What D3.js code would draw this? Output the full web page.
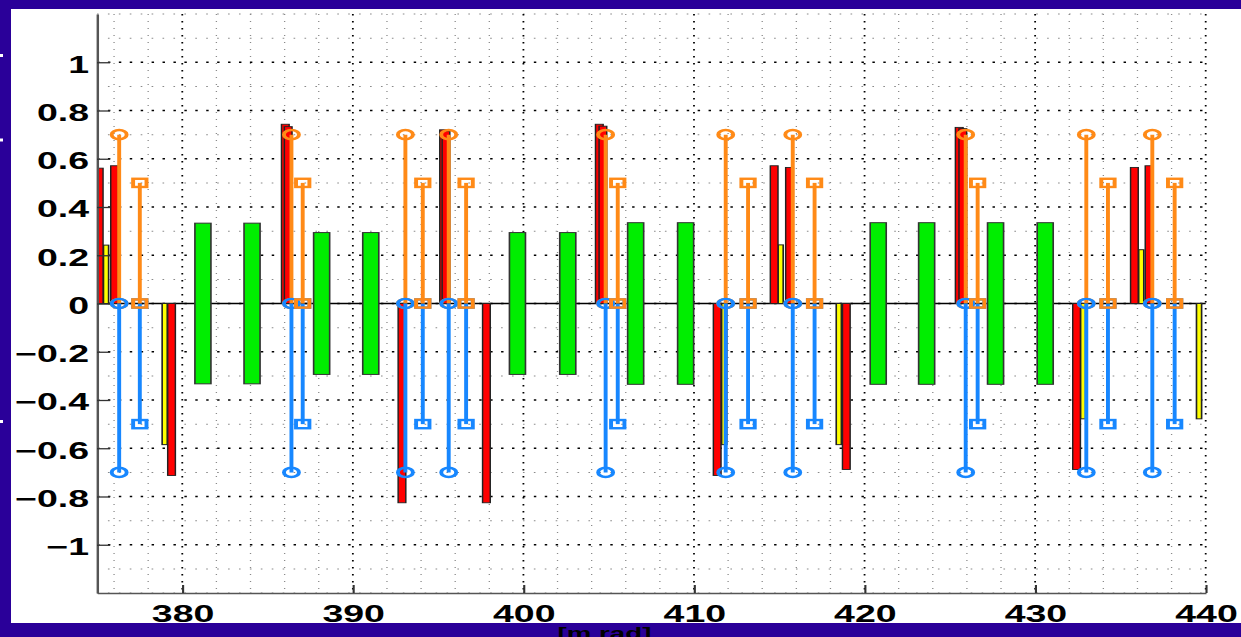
<!DOCTYPE html>
<html>
<head>
<meta charset="utf-8">
<script src="https://cdn.jsdelivr.net/npm/d3@7/dist/d3.min.js"></script>
<style>
  html, body { margin: 0; padding: 0; background: #2a0099; }
  svg { display: block; }
  text { font-family: "Liberation Sans", Arial, Helvetica, sans-serif; font-weight: bold; }
</style>
</head>
<body>
<svg id="chart" width="1241" height="637"></svg>
<script>
// ---- axis ticks ----
const xTicks = [380, 390, 400, 410, 420, 430, 440];
const xTickLabels = ["380", "390", "400", "410", "420", "430", "440"];
const xMinor = [376, 378, 382, 384, 386, 388, 392, 394, 396, 398, 402, 404, 406, 408,
                412, 414, 416, 418, 422, 424, 426, 428, 432, 434, 436, 438];
const yTicks = [-1, -0.8, -0.6, -0.4, -0.2, 0, 0.2, 0.4, 0.6, 0.8, 1];
const yTickLabels = ["\u22121", "\u22120.8", "\u22120.6", "\u22120.4", "\u22120.2", "0",
                     "0.2", "0.4", "0.6", "0.8", "1"];
const yMinor = [-1.2, -1.1, -0.9, -0.7, -0.5, -0.3, -0.1, 0.1, 0.3, 0.5, 0.7, 0.9, 1.1, 1.2];

// ---- red bars ----
const redX = [375.13, 376.03, 379.37, 386.04, 386.21, 392.88, 395.32, 395.46, 397.83,
              404.45, 404.66, 411.36, 414.70, 415.60, 418.93, 425.55, 425.76, 432.43, 435.82, 436.68];
const redV = [0.561, 0.571, -0.713, 0.743, 0.733, -0.826, 0.72, 0.715, -0.826,
              0.743, 0.735, -0.713, 0.571, 0.564, -0.688, 0.73, 0.725, -0.688, 0.564, 0.571];

// ---- yellow bars ----
const yellowX = [375.53, 378.97, 411.77, 415.08, 418.49, 432.81, 436.22, 439.61];
const yellowV = [0.242, -0.585, -0.585, 0.243, -0.585, -0.478, 0.223, -0.478];

// ---- green bars (symmetric about zero) ----
const greenX = [381.21, 384.09, 388.17, 391.05, 399.65, 402.6, 406.58, 409.51, 420.8, 423.64, 427.68, 430.59];
const greenV = [0.333, 0.333, 0.294, 0.294, 0.294, 0.294, 0.335, 0.335, 0.335, 0.335, 0.335, 0.335];

// ---- stems ----
const circleStemX = [376.30, 386.40, 393.08, 395.62, 404.82, 411.86, 415.79, 425.93, 433.0, 436.87];
const circleUp = 0.7, circleDown = -0.7;
const squareStemX = [377.51, 387.06, 394.10, 396.64, 405.53, 413.17, 417.07, 426.63, 434.27, 438.18];
const squareUp = 0.5, squareDown = -0.5;

// ---- layout ----
const SX = 1.63;                 // horizontal stretch of the whole figure
const plotL = 97, plotR = 1205.7, plotT = 14, plotB = 593;
const orange = "#ff8a17", blue = "#1787ff";

const svg = d3.select("#chart");
svg.append("rect").attr("x", 11).attr("y", 9).attr("width", 1230).attr("height", 614).attr("fill", "#fff");
// small white marks along the left border
svg.selectAll(".edge").data([55.5, 140, 421.5]).join("rect")
  .attr("x", 0).attr("y", d => d - 1.5).attr("width", 3).attr("height", 3).attr("fill", "#fff");

const g = svg.append("g").attr("transform", `scale(${SX},1)`);

const x = d3.scaleLinear().domain([375, 440]).range([plotL / SX, plotR / SX]);
const y = d3.scaleLinear().domain([-1.2, 1.2]).range([plotB, plotT]);

// minor grid
const grid = g.append("g");
grid.selectAll(".vminor").data(xMinor).join("line")
  .attr("x1", d => x(d)).attr("x2", d => x(d)).attr("y1", plotT).attr("y2", plotB)
  .attr("stroke", "#8a8a8a").attr("stroke-width", 0.8).attr("stroke-dasharray", "1,6");
grid.selectAll(".hminor").data(yMinor).join("line")
  .attr("x1", x(375)).attr("x2", x(440)).attr("y1", d => y(d)).attr("y2", d => y(d))
  .attr("stroke", "#8a8a8a").attr("stroke-width", 1).attr("stroke-dasharray", "1,5.7");
// major grid
grid.selectAll(".vmajor").data(xTicks).join("line")
  .attr("x1", d => x(d)).attr("x2", d => x(d)).attr("y1", plotT).attr("y2", plotB)
  .attr("stroke", "#000").attr("stroke-width", 1.1).attr("stroke-dasharray", "1.5,5.5");
grid.selectAll(".hmajor").data(yTicks).join("line")
  .attr("x1", x(375)).attr("x2", x(440)).attr("y1", d => y(d)).attr("y2", d => y(d))
  .attr("stroke", "#000").attr("stroke-width", 1.6).attr("stroke-dasharray", "1.5,5.2");

// baseline at zero
g.append("line").attr("x1", x(375)).attr("x2", x(440)).attr("y1", y(0)).attr("y2", y(0))
  .attr("stroke", "#000").attr("stroke-width", 1.6);

const clip = svg.append("clipPath").attr("id", "plotclip");
clip.append("rect").attr("x", x(375)).attr("y", plotT).attr("width", x(440) - x(375)).attr("height", plotB - plotT);
const plot = g.append("g").attr("clip-path", "url(#plotclip)");

const redW = 0.45, yellowW = 0.3, greenW = 0.94;

// yellow bars
plot.selectAll(".yb").data(yellowX).join("rect")
  .attr("x", d => x(d - yellowW / 2)).attr("width", x(yellowW) - x(0))
  .attr("y", (d, i) => y(Math.max(0, yellowV[i])))
  .attr("height", (d, i) => Math.abs(y(yellowV[i]) - y(0)))
  .attr("fill", "#ffff00").attr("stroke", "#222").attr("stroke-width", 1);

// red bars
plot.selectAll(".rb").data(redX).join("rect")
  .attr("x", d => x(d - redW / 2)).attr("width", x(redW) - x(0))
  .attr("y", (d, i) => y(Math.max(0, redV[i])))
  .attr("height", (d, i) => Math.abs(y(redV[i]) - y(0)))
  .attr("fill", "#ff0000").attr("stroke", "#222").attr("stroke-width", 0.9);

// green bars
plot.selectAll(".gb").data(greenX).join("rect")
  .attr("x", d => x(d - greenW / 2)).attr("width", x(greenW) - x(0))
  .attr("y", (d, i) => y(greenV[i]))
  .attr("height", (d, i) => y(-greenV[i]) - y(greenV[i]))
  .attr("fill", "#00ee00").attr("stroke", "#333").attr("stroke-width", 1);

// stems with markers at both ends
function stems(xs, v, color, shape) {
  const grp = g.append("g");
  grp.selectAll("line").data(xs).join("line")
    .attr("x1", d => x(d)).attr("x2", d => x(d)).attr("y1", y(0)).attr("y2", y(v))
    .attr("stroke", color).attr("stroke-width", 2.4);
  const ends = xs.flatMap(d => [[d, 0], [d, v]]);
  if (shape === "circle") {
    grp.selectAll("circle").data(ends).join("circle")
      .attr("cx", d => x(d[0])).attr("cy", d => y(d[1])).attr("r", 4.6)
      .attr("fill", "none").attr("stroke", color).attr("stroke-width", 2.4);
  } else {
    grp.selectAll("rect").data(ends).join("rect")
      .attr("x", d => x(d[0]) - 4.1).attr("y", d => y(d[1]) - 4.1)
      .attr("width", 8.2).attr("height", 8.2)
      .attr("fill", "none").attr("stroke", color).attr("stroke-width", 2.4);
  }
}
stems(circleStemX, circleUp, orange, "circle");
stems(circleStemX, circleDown, blue, "circle");
stems(squareStemX, squareDown, blue, "square");
stems(squareStemX, squareUp, orange, "square");

// axes
const yAxis = d3.axisLeft(y).tickValues(yTicks).tickFormat((d, i) => yTickLabels[i])
  .tickSizeInner(-8).tickSizeOuter(0).tickPadding(8 / SX);
const ya = g.append("g").attr("transform", `translate(${x(375)},0)`).call(yAxis);
const xAxis = d3.axisBottom(x).tickValues(xTicks).tickFormat((d, i) => xTickLabels[i])
  .tickSizeInner(-8).tickSizeOuter(0).tickPadding(12.7);
const xa = g.append("g").attr("transform", `translate(0,${plotB})`).call(xAxis);

[ya, xa].forEach(a => {
  a.select(".domain").attr("stroke", "#555").attr("stroke-width", 1.5);
  a.selectAll(".tick line").attr("stroke", "#333").attr("stroke-width", 1.3);
  a.selectAll("text").attr("font-size", 23).attr("font-family", "Liberation Sans, Arial, sans-serif")
    .attr("font-weight", "bold").attr("fill", "#000");
});
ya.selectAll("text").attr("dy", "0.43em");

// x label
g.append("text").attr("x", 604.5 / SX).attr("y", 639).attr("text-anchor", "middle")
  .attr("font-size", 17).attr("fill", "#000").text("[m rad]");
</script>
</body>
</html>
